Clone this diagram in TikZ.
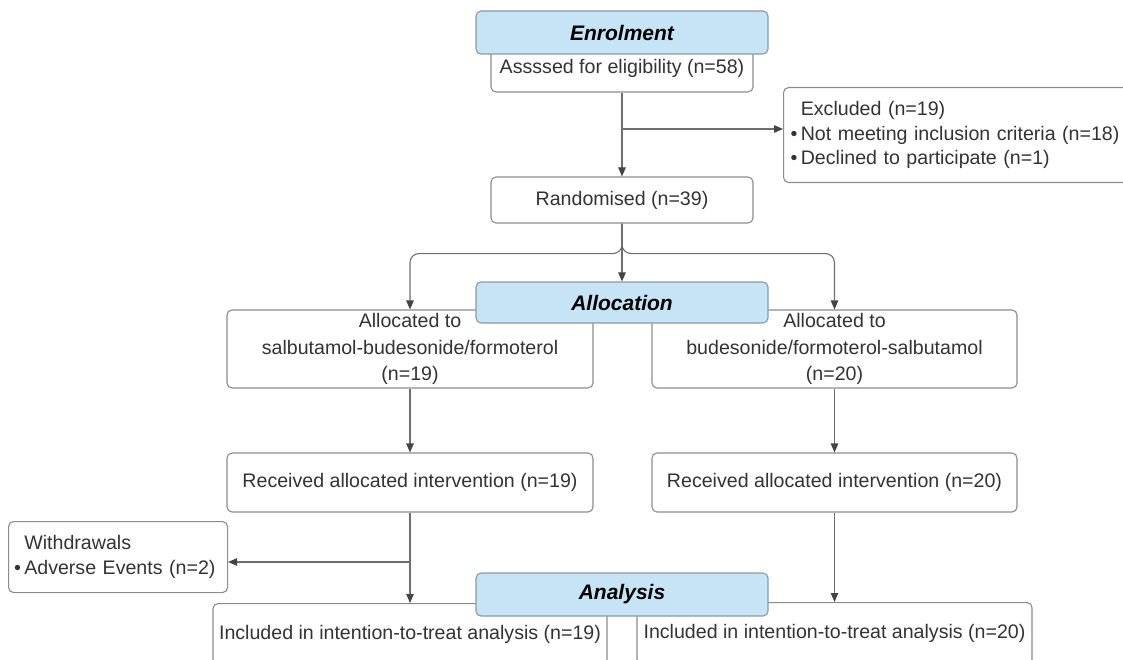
\documentclass[tikz,border=0pt]{standalone}
\usepackage{fontspec}
\setmainfont{Liberation Sans}
\usetikzlibrary{arrows.meta}
\definecolor{txt}{HTML}{333333}
\definecolor{bord}{HTML}{8C8C8C}
\definecolor{hfill}{HTML}{C6E4F5}
\definecolor{hbord}{HTML}{8A9BA5}
\definecolor{linec}{HTML}{6E6E6E}
\definecolor{tipc}{HTML}{444444}
\begin{document}
\begin{tikzpicture}[x=1pt,y=-1pt,
  box/.style={draw=bord, line width=1.1pt, rounded corners=5pt, fill=white, text=txt,
    font=\fontsize{19.6}{24.5}\selectfont, align=center, inner sep=0pt},
  listbox/.style={box, align=left, anchor=north west},
  hdr/.style={draw=hbord, line width=1.1pt, rounded corners=5pt, fill=hfill, text=black,
    font=\fontsize{21}{25}\selectfont\bfseries\itshape, inner sep=0pt,
    minimum width=292pt},
  arr/.style={draw=linec, line width=1.1pt, -{Triangle[length=9pt,width=7.5pt,color=tipc]}},
  split/.style={arr, rounded corners=9pt},
]
\useasboundingbox (0,0) rectangle (1123,660);
\clip (0,0) rectangle (1123,660);

% Enrolment
\node[box, minimum width=262pt, minimum height=48pt] (assess) at (622,68) {Assssed for eligibility (n=58)};
\node[hdr, minimum height=43pt] (enrol) at (622,32.5) {Enrolment};

\node[listbox, text width=345pt, inner xsep=7pt, minimum height=95pt] (excl) at (783,87)
  {\hspace*{10.3pt}Excluded (n=19)\\
   •\hspace{3.4pt}Not meeting inclusion criteria (n=18)\\
   •\hspace{3.4pt}Declined to participate (n=1)};

\node[box, minimum width=262pt, minimum height=46pt] (rand) at (622,200) {Randomised (n=39)};

% Allocation
\node[box, minimum width=366pt, minimum height=78pt, font=\fontsize{19.6}{26.5}\selectfont] (allocL) at (410,349)
  {Allocated to\\salbutamol-budesonide/formoterol\\(n=19)};
\node[box, minimum width=365pt, minimum height=78pt, font=\fontsize{19.6}{26.5}\selectfont] (allocR) at (834.5,349)
  {Allocated to\\budesonide/formoterol-salbutamol\\(n=20)};
\node[hdr, minimum height=41pt] (allochd) at (622,302.5) {Allocation};

\node[box, minimum width=366pt, minimum height=59pt] (recvL) at (410,482.5) {Received allocated intervention (n=19)};
\node[box, minimum width=365pt, minimum height=59pt] (recvR) at (834.5,482.5) {Received allocated intervention (n=20)};

\node[listbox, text width=208pt, inner xsep=5.5pt, minimum height=71pt] (withd) at (8,521)
  {\hspace*{10.3pt}Withdrawals\\
   •\hspace{3.4pt}Adverse Events (n=2)};

% Analysis
\node[box, anchor=north, minimum width=394pt, minimum height=62pt] (inclL) at (410,603)
  {\raisebox{4pt}{Included in intention-to-treat analysis (n=19)}};
\node[box, anchor=north, minimum width=395pt, minimum height=62pt] (inclR) at (834.5,602)
  {\raisebox{4pt}{Included in intention-to-treat analysis (n=20)}};
\node[hdr, minimum height=43pt] (anal) at (622,594.5) {Analysis};

% connectors
\coordinate (b1) at (622,129);
\coordinate (b2) at (410,562);
\draw[arr] (assess) -- (rand);
\draw[arr] (b1) -- (b1 -| excl.west);
\draw[arr] (rand) -- (allochd);
\draw[split] (rand.south) -- ++(0,30) -| (allocL.north);
\draw[split] (rand.south) -- ++(0,30) -| (allocR.north);
\draw[arr] (allocL) -- (recvL);
\draw[arr] (allocR) -- (recvR);
\draw[arr] (recvL) -- (inclL);
\draw[arr] (b2) -- (b2 -| withd.east);
\draw[arr] (recvR) -- (inclR);
\end{tikzpicture}
\end{document}
